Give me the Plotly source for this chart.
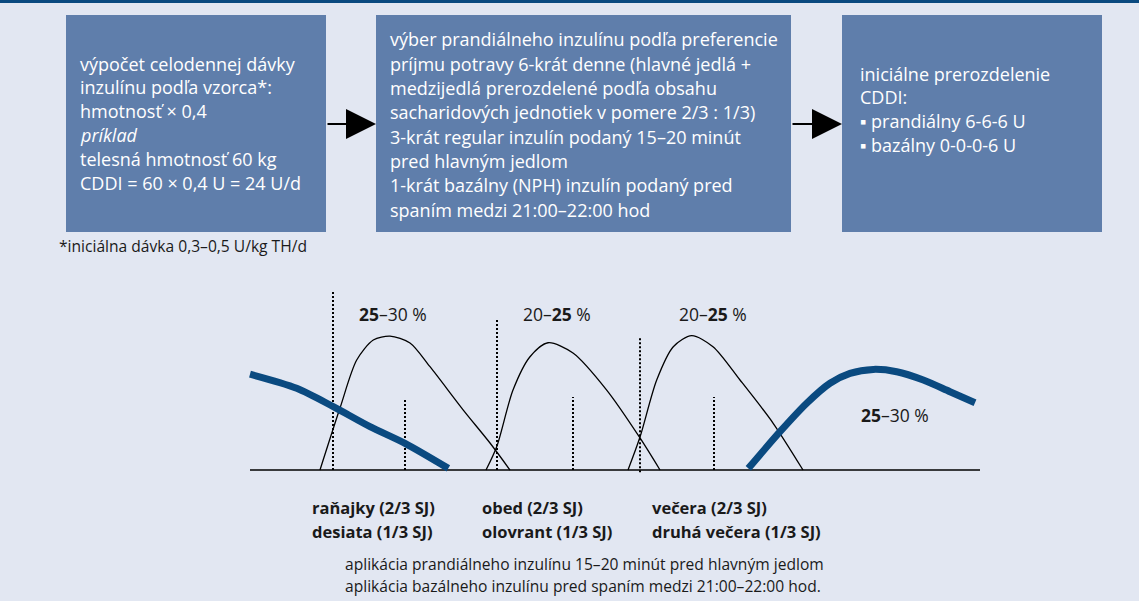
import plotly.graph_objects as go

# ---------------- data ----------------
# prandial insulin action curves (time units, relative effect)
bre_t = [7.0, 9.0, 10.67, 12.33, 14.0, 16.0, 18.0, 21.33, 24.0, 26.0]
bre_e = [0, 34.4, 61.1, 72.2, 74.4, 70.6, 57.4, 33.3, 15.0, 0]
lun_t = [23.6, 24.67, 26.3, 28.0, 29.8, 32.3, 35.67, 39.0, 41.0]
lun_e = [0, 12.9, 44.4, 62.9, 70.7, 65.0, 44.4, 17.8, 0]
din_t = [37.8, 39.0, 40.67, 42.33, 44.17, 46.3, 49.0, 52.3, 55.3]
din_e = [0, 18.3, 50.0, 68.5, 74.6, 68.5, 50.0, 26.1, 0]
# basal (NPH) insulin action
bas1_t = [0, 4.67, 8.33, 12.0, 15.5, 19.83]
bas1_e = [53.2, 45.4, 35.2, 24.1, 14.8, 0.9]
bas2_t = [49.83, 53.0, 55.67, 58.0, 60.0, 62.33, 64.67, 67.33, 70.0, 72.5]
bas2_e = [0.9, 21.3, 37.1, 48.2, 53.7, 55.9, 54.6, 50.0, 43.5, 37.4]
# time axis baseline
axis_t = [0, 73]
# main meal (injection) markers and snack markers
meal_t = [8.3, 24.7, 39.0]
meal_top = [100, 84.4, 73.9]
meal_bottom = [0, 0, -1.2]
snack_t = [15.5, 32.3, 46.4]
snack_top = [38.9, 40.6, 40.6]
# share labels
share_text = ["<b>25</b>–30 %", "20–<b>25</b> %", "20–<b>25</b> %", "<b>25</b>–30 %"]
share_t = [14.3, 30.7, 46.3, 64.5]
share_e = [86.7, 86.7, 86.7, 30.6]
# meal labels
meal_lbl_main = ["raňajky (2/3 SJ)", "obed (2/3 SJ)", "večera (2/3 SJ)"]
meal_lbl_snack = ["desiata (1/3 SJ)", "olovrant (1/3 SJ)", "druhá večera (1/3 SJ)"]
meal_lbl_t = [6.0, 23.0, 40.0]

box1_lines = ["výpočet celodennej dávky", "inzulínu podľa vzorca*:", "hmotnosť × 0,4",
              "<i>príklad</i>", "telesná hmotnosť 60 kg", "CDDI = 60 × 0,4 U = 24 U/d"]
box2_lines = ["výber prandiálneho inzulínu podľa preferencie",
              "príjmu potravy 6-krát denne (hlavné jedlá +",
              "medzijedlá prerozdelené podľa obsahu",
              "sacharidových jednotiek v pomere 2/3 : 1/3)",
              "3-krát regular inzulín podaný 15–20 minút",
              "pred hlavným jedlom",
              "1-krát bazálny (NPH) inzulín podaný pred",
              "spaním medzi 21:00–22:00 hod"]
box3_lines = ["iniciálne prerozdelenie", "CDDI:", "▪ prandiálny 6-6-6 U", "▪ bazálny 0-0-0-6 U"]
footnote = "*iniciálna dávka 0,3–0,5 U/kg TH/d"
notes = ["aplikácia prandiálneho inzulínu 15–20 minút pred hlavným jedlom",
         "aplikácia bazálneho inzulínu pred spaním medzi 21:00–22:00 hod."]

# ---------------- style ----------------
W, H = 1139, 601
BG = "#E2E7F2"
BOX = "#5F7EAB"
DARK = "#0A4A80"
FONT = "Open Sans"
TXT = "#1A1A1A"


def px(x):
    return x / W


def py(y):
    return 1 - y / H


fig = go.Figure()

thin = dict(color="black", width=1.3, shape="spline", smoothing=0.8)
for t, e in [(bre_t, bre_e), (lun_t, lun_e), (din_t, din_e)]:
    fig.add_trace(go.Scatter(x=t, y=e, mode="lines", line=thin, hoverinfo="skip"))

fig.add_trace(go.Scatter(x=axis_t, y=[0, 0], mode="lines",
                         line=dict(color="black", width=1.5), hoverinfo="skip"))

for t, top, bot in zip(meal_t, meal_top, meal_bottom):
    fig.add_trace(go.Scatter(x=[t, t], y=[bot, top], mode="lines",
                             line=dict(color="black", width=2, dash="2px,2px"), hoverinfo="skip"))
for t, top in zip(snack_t, snack_top):
    fig.add_trace(go.Scatter(x=[t, t], y=[0, top], mode="lines",
                             line=dict(color="black", width=2, dash="2px,2px"), hoverinfo="skip"))

thick = dict(color=DARK, width=7, shape="spline", smoothing=0.8)
for t, e in [(bas1_t, bas1_e), (bas2_t, bas2_e)]:
    fig.add_trace(go.Scatter(x=t, y=e, mode="lines", line=thick, hoverinfo="skip"))

annotations = []
for txt, t, e in zip(share_text, share_t, share_e):
    annotations.append(dict(x=t, y=e, xref="x", yref="y", text=txt, showarrow=False,
                            font=dict(family=FONT, size=17.5, color=TXT),
                            xanchor="center", yanchor="middle"))

EY = lambda p: (470 - p) / 1.8
for t, m, s in zip(meal_lbl_t, meal_lbl_main, meal_lbl_snack):
    annotations.append(dict(x=t, y=EY(507), xref="x", yref="y", text="<b>" + m + "</b>",
                            showarrow=False, font=dict(family=FONT, size=16.5, color=TXT),
                            xanchor="left", yanchor="middle"))
    annotations.append(dict(x=t, y=EY(531), xref="x", yref="y", text="<b>" + s + "</b>",
                            showarrow=False, font=dict(family=FONT, size=16.5, color=TXT),
                            xanchor="left", yanchor="middle"))

shapes = [
    dict(type="rect", xref="paper", yref="paper", x0=0, x1=1, y0=py(3), y1=1,
         fillcolor=DARK, line_width=0, layer="below"),
]
boxes = [(66, 326, box1_lines, 78, 63.5, 23.9),
         (376, 791, box2_lines, 388, 39.5, 24.3),
         (842, 1102, box3_lines, 858, 73.5, 23.7)]
for x0, x1, lines, tx, ty, step in boxes:
    shapes.append(dict(type="rect", xref="paper", yref="paper", x0=px(x0), x1=px(x1),
                       y0=py(232), y1=py(15), fillcolor=BOX, line_width=0, layer="below"))
    for i, ln in enumerate(lines):
        annotations.append(dict(x=px(tx), y=py(ty + i * step), xref="paper", yref="paper",
                                text=ln, showarrow=False, xanchor="left", yanchor="middle",
                                font=dict(family=FONT, size=18, color="white")))

for tip, tail in [(376, 326), (842, 791)]:
    annotations.append(dict(x=px(tip), y=py(124), xref="paper", yref="paper",
                            ax=tail - tip, ay=0, axref="pixel", ayref="pixel",
                            text="", showarrow=True, arrowhead=2, arrowsize=3,
                            arrowwidth=2, arrowcolor="black"))

annotations.append(dict(x=px(57), y=py(246), xref="paper", yref="paper", text=footnote,
                        showarrow=False, xanchor="left", yanchor="middle",
                        font=dict(family=FONT, size=15.6, color=TXT)))
for i, n in enumerate(notes):
    annotations.append(dict(x=px(343), y=py(564 + i * 22), xref="paper", yref="paper", text=n,
                            showarrow=False, xanchor="left", yanchor="middle",
                            font=dict(family=FONT, size=15.6, color=TXT)))

fig.update_layout(
    width=W, height=H,
    margin=dict(l=0, r=0, t=0, b=0),
    paper_bgcolor=BG, plot_bgcolor="rgba(0,0,0,0)",
    showlegend=False,
    shapes=shapes,
    annotations=annotations,
    xaxis=dict(domain=[px(230), px(1000)], range=[-2, 75], visible=False, fixedrange=True),
    yaxis=dict(domain=[py(600), py(280)], range=[EY(600), EY(280)], visible=False, fixedrange=True),
)

fig.write_html("out.html", config={"displayModeBar": False},
               post_script="document.body.style.margin='0px';document.body.style.overflow='hidden';")
